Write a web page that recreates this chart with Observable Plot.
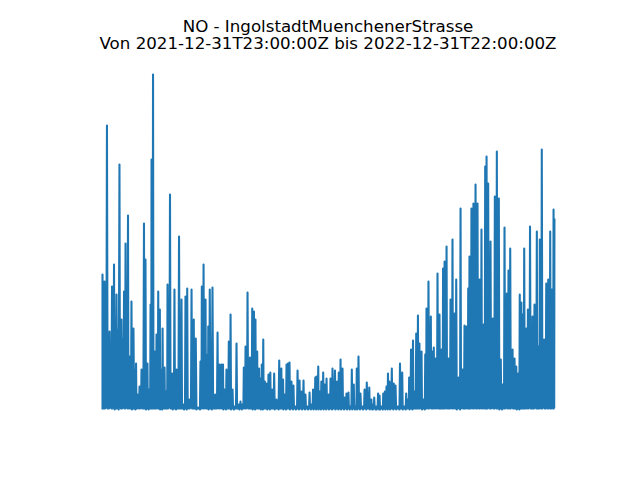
<!DOCTYPE html>
<html>
<head>
<meta charset="utf-8">
<script src="https://cdn.jsdelivr.net/npm/d3@7"></script>
<script src="https://cdn.jsdelivr.net/npm/@observablehq/plot@0.6"></script>
<style>
  html, body { margin: 0; padding: 0; background: #ffffff; }
  #wrap { position: relative; width: 640px; height: 480px; overflow: hidden; font-family: "DejaVu Sans", sans-serif; }
  #title { position: absolute; left: 0; top: 18px; width: 656px; text-align: center; font-size: 16.67px; line-height: 17px; color: #000; white-space: pre; }
  #chart { position: absolute; left: 0; top: 58px; }
</style>
</head>
<body>
<div id="wrap">
  <div id="title"></div>
  <div id="chart"></div>
</div>
<script>
const titleLine1 = "NO - IngolstadtMuenchenerStrasse";
const titleLine2 = "Von 2021-12-31T23:00:00Z bis 2022-12-31T22:00:00Z";
const startTime = "2021-12-31T23:00:00Z";
const endTime = "2022-12-31T22:00:00Z";

// Days since start of each local maximum
const peakDay = [0.0,1.6,3.6,5.7,7.7,9.3,11.3,13.7,15.3,17.4,18.6,20.6,21.8,23.4,25.0,27.1,28.3,29.9,31.5,33.5,
34.7,36.3,37.5,38.8,39.6,40.8,42.2,43.6,45.0,46.3,47.2,48.5,50.1,51.4,52.5,54.5,56.3,58.1,59.8,61.8,
63.8,65.4,67.0,68.4,70.0,71.9,73.7,75.3,77.5,79.1,80.2,81.6,83.2,84.5,85.4,86.6,88.8,91.0,92.9,94.5,
96.1,97.3,98.5,100.1,102.0,103.4,105.0,106.6,108.2,110.1,111.4,112.8,114.1,115.5,117.1,119.1,120.9,122.3,123.5,124.9,
126.4,127.6,128.6,129.8,131.1,132.7,134.0,135.5,136.9,138.6,140.5,142.7,144.4,145.8,147.0,148.6,149.8,151.0,152.6,154.2,
155.8,157.5,159.1,160.7,162.3,163.9,165.5,167.2,168.6,170.0,171.8,172.8,174.2,175.2,176.7,178.2,179.5,180.9,182.5,184.1,
185.7,187.7,189.5,190.8,192.2,193.8,195.4,197.0,198.6,200.0,201.3,202.9,204.3,205.3,206.7,208.3,210.0,211.6,213.4,215.4,
217.1,218.0,219.4,221.0,222.5,223.7,225.3,226.7,228.0,229.3,230.5,231.7,233.6,235.2,236.6,238.6,240.2,242.0,243.6,245.2,
246.5,247.6,249.1,250.7,251.9,253.3,254.7,255.9,257.6,259.2,260.6,261.6,263.2,265.1,266.2,267.5,268.9,270.5,272.1,273.7,
275.0,276.2,277.8,279.4,281.0,282.6,284.2,285.6,287.5,289.1,290.7,292.3,293.9,295.3,296.3,297.9,299.5,301.2,302.8,304.4,
306.0,307.6,309.0,310.1,311.4,313.3,315.1,316.8,318.4,320.0,321.6,323.0,324.6,326.5,327.8,329.2,331.1,332.7,334.1,335.7,
336.9,338.2,339.1,340.5,342.1,343.5,345.2,347.2,348.8,350.7,352.0,353.1,354.7,356.6,358.3,359.9,361.5,362.8,364.2,364.9];

// NO concentration at those maxima
const peakValue = [135,128,284,78,123,145,115,245,90,118,166,194,53,108,81,46,15,23,40,186,
150,46,20,105,250,335,58,75,118,100,40,81,42,18,125,215,36,120,40,173,
110,5,113,121,10,120,90,71,2,48,123,145,110,55,83,120,122,15,77,45,
45,45,20,40,68,95,20,3,66,5,8,5,42,63,117,52,101,98,90,58,
41,31,45,70,28,26,35,37,20,36,10,49,41,30,15,45,46,47,28,24,
3,39,29,18,29,15,3,17,5,20,32,33,43,18,28,37,25,31,15,31,
41,39,28,37,50,41,12,16,17,3,40,25,3,41,53,16,3,20,27,22,
10,5,12,3,16,14,3,16,18,23,36,28,41,26,24,3,46,37,3,16,
10,32,60,69,18,76,94,66,58,10,55,101,128,93,58,62,51,136,95,60,
141,148,163,51,110,170,96,130,32,201,40,84,83,121,153,201,206,225,206,130,
180,85,243,253,226,168,91,213,258,211,50,25,182,116,139,161,60,51,43,36,
115,107,95,161,81,100,183,93,105,178,63,170,260,70,126,130,178,120,200,190];

// Typical daytime level between two maxima (top of the solid band)
const baseValue = [40,80,90,60,60,80,80,80,70,70,90,100,45,45,60,40,12,12,18,30,
40,30,15,18,35,40,30,30,30,30,25,25,25,15,15,30,25,25,25,30,
30,4,4,30,8,8,25,25,2,2,25,30,25,25,25,25,25,12,12,20,
18,18,15,15,18,18,15,3,3,5,5,5,5,15,18,18,18,18,18,18,
15,15,15,15,12,12,12,12,12,12,8,8,12,12,10,10,12,12,12,12,
3,3,10,10,10,10,3,3,5,5,10,10,12,10,10,12,10,10,10,10,
10,12,12,12,12,12,10,10,10,3,3,10,3,3,12,10,3,3,10,10,
8,5,5,3,3,8,3,3,8,10,12,12,12,12,12,3,3,15,3,3,
8,10,15,18,15,15,20,20,20,10,10,25,30,30,30,30,30,30,35,35,
35,40,40,35,35,40,40,40,30,30,30,30,35,40,40,45,45,45,45,45,
45,45,45,50,50,50,45,45,50,50,40,20,20,40,40,40,40,35,35,30,
30,40,40,40,40,40,40,40,40,40,40,40,45,45,45,45,45,45,45,45];

// Night-time minima between maxima
const troughValue = [1,2,1,1,2,1,0,1,2,1,1,2,1,1,0,1,1,2,1,1,
1,0,1,1,2,1,1,1,2,1,0,1,1,1,2,1,1,0,1,1,
1,1,0,1,2,1,1,1,0,1,1,2,1,1,1,0,1,1,1,2,
1,1,0,1,1,1,0,1,1,1,0,1,1,2,1,1,1,0,1,1,
1,1,0,1,1,1,0,1,1,1,0,1,1,1,0,1,1,1,0,1,
1,0,1,1,0,1,1,0,1,1,0,1,1,0,1,1,0,1,1,0,
1,1,0,1,1,0,1,1,0,1,1,0,1,1,0,1,1,0,1,1,
0,1,0,1,0,1,0,1,1,0,1,1,0,1,1,0,1,1,0,1,
1,1,0,1,1,1,1,2,1,0,1,1,2,1,1,1,2,1,1,1,
1,2,1,1,1,2,1,1,0,2,1,1,1,2,1,1,2,1,1,2,
1,1,2,1,1,2,1,1,2,1,0,1,2,1,1,2,1,1,1,0,
1,2,1,1,1,2,1,1,1,2,1,1,2,1,1,2,1,1,2,1];

const t0 = new Date(startTime).getTime();
const dayMs = 86400000;
const n = Math.min(peakDay.length, peakValue.length, troughValue.length, baseValue.length);
const series = [];
const at = (d) => new Date(t0 + d * dayMs);
for (let i = 0; i < n; i++) {
  if (i === 0) {
    series.push({time: at(peakDay[0]), value: troughValue[0]});
  } else {
    const a = peakDay[i - 1], b = peakDay[i];
    series.push({time: at(a + (b - a) * 0.25), value: troughValue[i]});
    series.push({time: at(a + (b - a) * 0.5), value: baseValue[i]});
    series.push({time: at(a + (b - a) * 0.75), value: troughValue[i - 1]});
  }
  series.push({time: at(peakDay[i]), value: peakValue[i]});
}

document.getElementById("title").textContent = titleLine1 + "\n" + titleLine2;

const chart = Plot.plot({
  width: 640,
  height: 422,
  marginLeft: 102,
  marginRight: 86,
  marginTop: 11,
  marginBottom: 71,
  style: {background: "#ffffff", fontFamily: "DejaVu Sans, sans-serif"},
  x: {type: "utc", domain: [new Date(startTime), new Date(endTime)], axis: null},
  y: {domain: [0, 340], axis: null},
  marks: [
    Plot.line(series, {x: "time", y: "value", stroke: "#1f77b4", strokeWidth: 2.08, strokeLinejoin: "round", strokeLinecap: "square"})
  ]
});
document.getElementById("chart").appendChild(chart);
</script>
</body>
</html>
